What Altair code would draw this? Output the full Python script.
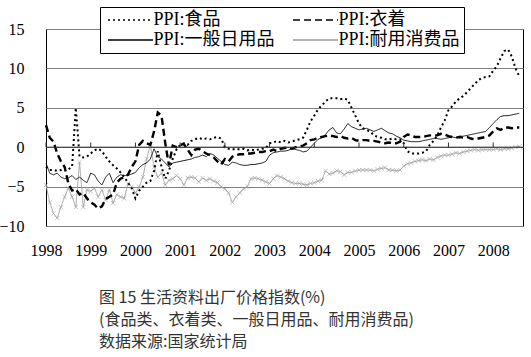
import altair as alt
import pandas as pd

# ---- data ----
months = pd.date_range("1998-01-01", periods=128, freq="MS")
year_ticks = [1998, 1999, 2000, 2001, 2002, 2003, 2004, 2005, 2006, 2007, 2008]
y_ticks = [-10, -5, 0, 5, 10, 15]
series_names = ["PPI:食品", "PPI:衣着", "PPI:一般日用品", "PPI:耐用消费品"]

food = [
    -2.5, -2.9, -2.9, -3.0, -2.9, -2.6, -2.8, -2.5, 5.0, -1.2, -1.3, -1.2,
    -0.8, -0.4, -0.2, -0.5, -1.2, -1.8, -2.3, -2.7, -3.2, -3.8, -4.5, -5.2,
    -6.5, -5.5, -5.0, -4.5, -4.3, -3.0, -0.5, -2.5, -4.0, -3.0, -1.5, -0.3,
    0.3, 0.5, 0.3, 0.8, 1.0, 1.2, 1.0, 1.1, 1.0, 1.2, 1.3, 1.1,
    0.0, -0.2, -0.3, -0.2, -0.3, -0.2, -0.4, -0.3, -0.4, -0.3, -0.2, -0.1,
    0.5, 0.6, 0.8, 0.6, 0.8, 0.6, 0.7, 0.9, 1.0, 1.2, 2.2, 3.3,
    4.0, 4.8, 5.3, 5.8, 6.2, 6.2, 6.2, 6.1, 6.2, 6.0, 5.0, 4.0,
    3.0, 2.4, 2.2, 2.0, 1.5, 1.3, 1.2, 1.0, 1.0, 1.1, 1.0, 1.0,
    0.5, -0.5, -0.8, -0.8, -0.8, -0.7, -0.5, 0.3, 0.8, 1.5, 2.5, 3.4,
    4.7, 5.2, 5.8, 6.2, 6.5, 7.0, 7.5, 8.0, 8.5, 8.8, 8.9, 9.0,
    9.7, 10.3, 11.3, 12.2, 12.4, 11.5, 10.0, 9.0,
]
clothing = [
    2.8, 1.2, 0.7, -0.8, -1.8, -2.5, -4.6, -5.5, -5.3, -6.0, -5.8, -6.5,
    -7.0, -7.3, -7.8, -7.5, -6.6, -6.3, -6.0, -4.5, -4.0, -3.8, -3.5, -2.5,
    -1.8, 0.3, 0.8, 0.5, 0.3, 2.0, 4.4, 4.0, 0.5, -2.3, 0.2, 0.0,
    0.3, 0.4, -0.3, -1.0, -0.3, -0.2, -0.5, -0.8, -1.0, -1.3, -1.8, -2.2,
    -1.5, -1.8, -1.2, -1.0, -0.9, -0.9, -0.8, -0.8, -0.7, -0.6, -0.6, -0.5,
    -0.5, -0.3, -0.5, -0.2, -0.1, 0.0, -0.2, 0.0, 0.1, 0.2, 0.5, 0.9,
    1.0, 1.2, 1.3, 1.4, 1.5, 1.4, 1.3, 1.4, 1.2, 1.1, 1.2, 0.9,
    0.8, 0.9, 0.9, 0.8, 0.8, 0.7, 0.6, 0.5, 0.6, 0.5, 0.5, 0.7,
    1.3, 1.6, 1.5, 1.3, 1.3, 1.3, 1.4, 1.5, 1.5, 1.5, 1.7, 1.6,
    1.4, 1.3, 1.2, 1.3, 1.2, 1.3, 1.1, 1.0, 1.1, 1.2, 1.3, 1.5,
    2.0, 2.4, 2.2, 2.5, 2.5, 2.4, 2.5, 2.5,
]
general = [
    -2.0, -3.3, -3.5, -3.3, -3.8, -4.0, -3.9, -3.6, -4.1, -3.8, -4.2, -4.5,
    -3.3, -3.5, -4.3, -4.8, -3.8, -3.3, -4.5, -3.8, -3.5, -3.6, -3.6, -3.4,
    -3.2, -2.6, -2.2, -2.0, -1.5, -0.2, -1.2, -1.5, -2.0, -2.5, -2.0, -1.9,
    -1.8, -1.7, -1.6, -1.5, -1.3, -1.2, -1.0, -1.2, -0.8, -1.0, -1.4, -1.8,
    -2.2, -2.3, -1.9, -2.0, -2.2, -2.3, -2.3, -2.2, -2.2, -2.1, -2.0, -1.8,
    -1.0, -0.7, -0.6, -0.5, -0.5, -0.4, -0.2, -0.3, -0.4, -0.6, -0.5, 0.0,
    0.5, 1.0, 1.2, 1.6, 2.2, 2.5, 1.8, 1.7, 2.3, 3.0, 2.6, 2.4,
    2.2, 2.3, 2.4, 2.2, 2.0, 2.2, 2.4, 2.1, 1.8, 1.7, 1.4, 1.2,
    0.9, 0.8, 0.7, 0.7, 0.7, 0.8, 0.9, 1.0, 1.1, 1.1, 1.0, 1.1,
    1.2, 1.3, 1.2, 1.4, 1.4, 1.5, 1.6, 1.7, 1.8, 1.9, 2.0, 2.5,
    3.0, 3.5, 3.9, 4.0, 4.0, 4.1, 4.2, 4.3,
]
durable = [
    -4.8, -7.0, -8.4, -9.0, -7.6, -6.3, -5.2, -6.3, -7.6, -1.9, -7.6, -5.4,
    -5.6, -5.2, -6.3, -5.4, -6.7, -5.4, -7.1, -6.0, -6.3, -6.5, -4.6, -5.0,
    -5.8, -5.0, -3.8, -1.5, 0.3, -2.5, -3.8, -3.3, -4.8, -4.2, -4.0, -3.6,
    -4.0, -4.8, -3.9, -3.8, -3.9, -4.4, -3.9, -4.2, -4.0, -4.3, -4.5, -5.0,
    -5.3, -5.8, -7.0, -6.3, -5.8, -5.3, -5.0, -4.0, -3.9, -4.0, -4.2, -4.4,
    -4.6, -4.0, -3.6, -3.8, -4.0, -4.3, -4.5, -4.6, -4.6, -4.7, -4.8, -4.6,
    -4.5, -4.3, -4.2, -3.0, -3.4, -3.3, -3.0, -3.1, -3.5, -3.2, -3.2, -3.0,
    -2.9, -2.9, -2.9, -2.9, -3.0, -2.8, -2.7, -2.6, -2.9, -2.9, -3.0, -2.9,
    -2.4, -2.1, -2.0, -1.8, -1.7, -1.6, -1.7, -1.5, -1.6, -1.3, -1.1, -1.0,
    -1.0, -0.9, -0.7, -0.8, -0.6, -0.5, -0.4, -0.3, -0.4, -0.3, -0.3, -0.3,
    -0.3, -0.2, -0.3, -0.2, -0.2, -0.1, 0.0, 0.1,
]

caption = [
    "图 15  生活资料出厂价格指数(%)",
    "(食品类、衣着类、一般日用品、耐用消费品)",
    "数据来源:国家统计局",
]

# ---- build table ----
rows = []
for name, vals in zip(series_names, [food, clothing, general, durable]):
    for d, v in zip(months, vals):
        rows.append({"t": d.year + (d.month - 1) / 12.0, "series": name, "value": v})
df = pd.DataFrame(rows)

SERIF = "Liberation Serif, Noto Sans CJK SC"
GRAY = "#9c9c9c"

x_scale = alt.Scale(domain=[1998, 2008.667], nice=False, zero=False)
y_scale = alt.Scale(domain=[-10, 15], nice=False, zero=False)

x_axis = alt.Axis(values=year_ticks, format="d", grid=False, ticks=False, domain=False,
                  labelPadding=16, labelFont="Liberation Serif", labelFontSize=16,
                  labelColor="#000", labelFlush=False, labelOverlap=False, title=None)
y_axis = alt.Axis(values=y_ticks, grid=True, gridColor="#808080", gridWidth=1,
                  ticks=False, domain=False, labelPadding=22, labelOverlap=False,
                  labelFlush=False, labelFont="Liberation Serif", labelFontSize=16,
                  labelColor="#000", title=None)


def xe(field):
    return alt.X(field, scale=x_scale, axis=x_axis)


def ye(field):
    return alt.Y(field, scale=y_scale, axis=y_axis)


color_scale = alt.Scale(domain=series_names,
                        range=["#000000", "#000000", "#000000", GRAY])
dash_scale = alt.Scale(domain=series_names,
                       range=[[2, 3], [7, 4], [1, 0], [1, 0]])
widths = [2, 2.4, 0.9, 0.9]


def series_line(i):
    return alt.Chart(df).transform_filter(
        alt.datum.series == series_names[i]
    ).mark_line(strokeCap="butt", strokeWidth=widths[i]).encode(
        x=xe("t:Q"),
        y=ye("value:Q"),
        color=alt.Color("series:N", scale=color_scale, legend=alt.Legend(title=None)),
        strokeDash=alt.StrokeDash("series:N", scale=dash_scale, legend=alt.Legend(title=None)),
    )


markers = alt.Chart(df).transform_filter(
    alt.datum.series == series_names[3]
).mark_point(
    shape="M-1,-1L1,1M-1,1L1,-1", size=18, filled=False, strokeWidth=0.8, color=GRAY
).encode(x=xe("t:Q"), y=ye("value:Q"))

zero_line = alt.Chart(pd.DataFrame({"value": [0]})).mark_rule(
    color="#333333", strokeWidth=1
).encode(y=ye("value:Q"))

tick_df = pd.DataFrame({"t": year_ticks, "value": [0] * len(year_ticks),
                        "v1": [0.6] * len(year_ticks)})
year_marks = alt.Chart(tick_df).mark_rule(color="#333333", strokeWidth=1).encode(
    x=xe("t:Q"), y=ye("value:Q"), y2="v1:Q"
)

chart = alt.layer(
    series_line(3), markers, series_line(2), series_line(1),
    series_line(0), zero_line, year_marks,
).properties(
    width=477,
    height=197,
    autosize=alt.AutoSizeParams(type="none"),
    padding={"left": 46, "top": 29, "right": 8, "bottom": 131},
    title=alt.TitleParams(
        text=caption, orient="bottom", anchor="start", frame="group", dx=53, offset=32,
        font="Noto Sans CJK SC", fontSize=16, fontWeight="normal",
        lineHeight=22, color="#333333", baseline="top",
    ),
).configure_view(
    stroke="#000000", strokeWidth=1
).configure_legend(
    orient="none", legendX=54, legendY=-22, columns=2, direction="horizontal",
    symbolType="M-4.5,0L4.5,0", symbolSize=100, symbolStrokeWidth=1.5,
    symbolOffset=17.5,
    labelFont=SERIF, labelFontSize=18, labelColor="#000", labelLimit=300,
    strokeColor="#000000", fillColor="#ffffff", padding=4,
    columnPadding=14, rowPadding=2, labelOffset=14,
)

chart.save("out.html", embed_options={"renderer": "svg", "actions": False})
